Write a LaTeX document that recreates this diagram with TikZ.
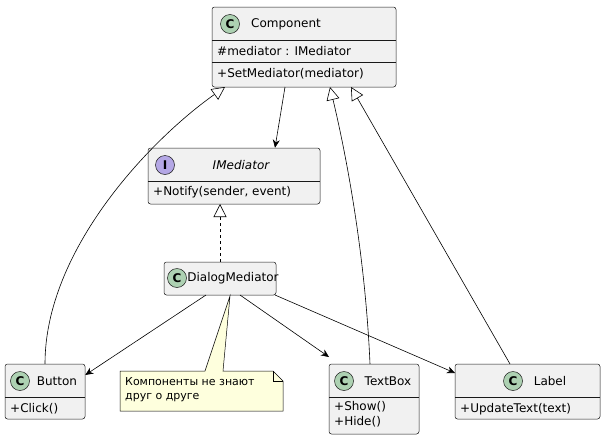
\documentclass[tikz,border=0pt]{standalone}
\usepackage{fontspec}
\setmainfont{DejaVu Sans}
\usetikzlibrary{arrows.meta}
\definecolor{boxfill}{HTML}{F1F1F1}
\definecolor{cgreen}{HTML}{ADD1B2}
\definecolor{ipurple}{HTML}{B4A7E5}
\definecolor{notefill}{HTML}{FEFFDD}
\tikzset{
  cls/.style={draw=black!90,fill=boxfill,rounded corners=2.5pt,line width=0.5pt,inner sep=0pt},
  spot/.style={circle,draw=black!90,line width=0.5pt,minimum size=19pt,inner sep=0pt,font=\fontsize{12}{12}\selectfont\bfseries},
  txt/.style={font=\fontsize{12}{15}\selectfont,inner sep=0pt},
  sep/.style={line width=0.5pt,draw=black!90},
  inherit/.style={-{Triangle[open,length=13pt,width=13pt]},line width=0.6pt},
  assoc/.style={-{Stealth[length=8pt,width=7pt]},line width=0.6pt}
}
\begin{document}
\begin{tikzpicture}[x=1pt,y=-1pt]
\useasboundingbox (0,0) rectangle (612,442);
% Component
\node[cls,minimum width=184pt,minimum height=80pt] (comp) at (304,47) {};
\draw[sep] (212,40) -- (396,40);
\draw[sep] (212,62) -- (396,62);
\node[spot,fill=cgreen] (compc) at (230,24) {C};
\node[txt] (compt) at (286,24) {Component};
\node[txt,anchor=west] (compf) at (217,51) {\#mediator : IMediator};
\node[txt,anchor=west] (compm) at (217,74) {+SetMediator(mediator)};
% IMediator
\node[cls,minimum width=172pt,minimum height=56pt] (imed) at (234,176) {};
\draw[sep] (148,181) -- (320,181);
\node[spot,fill=ipurple] (imedc) at (165,165) {I};
\node[txt] (imedt) at (241,165) {\itshape IMediator};
\node[txt,anchor=west] (imedm) at (153,192) {+Notify(sender, event)};
% DialogMediator
\node[cls,minimum width=112pt,minimum height=33pt] (dm) at (220,278.5) {};
\node[spot,fill=cgreen] (dmc) at (177,278) {C};
\node[txt] (dmt) at (233,278) {DialogMediator};
% Button
\node[cls,minimum width=80pt,minimum height=55pt] (btn) at (45,391.5) {};
\draw[sep] (5,397) -- (85,397);
\node[spot,fill=cgreen] (btnc) at (20,381) {C};
\node[txt] (btnt) at (57,381) {Button};
\node[txt,anchor=west] (btnm) at (10,409) {+Click()};
% TextBox
\node[cls,minimum width=90pt,minimum height=70pt] (tb) at (374,399) {};
\draw[sep] (329,397) -- (419,397);
\node[spot,fill=cgreen] (tbc) at (344,381) {C};
\node[txt] (tbt) at (388,381) {TextBox};
\node[txt,anchor=west] (tbm1) at (334,407) {+Show()};
\node[txt,anchor=west] (tbm2) at (334,422) {+Hide()};
% Label
\node[cls,minimum width=145pt,minimum height=55pt] (lbl) at (527.5,391.5) {};
\draw[sep] (455,397) -- (600,397);
\node[spot,fill=cgreen] (lblc) at (513,381) {C};
\node[txt] (lblt) at (550,381) {Label};
\node[txt,anchor=west] (lblm) at (460,409) {+UpdateText(text)};
% note
\coordinate (nt) at (230,296);
\draw[line width=0.5pt,fill=notefill] (120,371) -- (205,371) -- (nt) -- (223,371) -- (273,371) -- (283,381) -- (283,411) -- (120,411) -- cycle;
\draw[line width=0.5pt] (273,371) -- (273,381) -- (283,381);
\node[txt,anchor=north west,align=left,font=\fontsize{11}{14}\selectfont] (note) at (125,377) {Компоненты не знают\\друг о друге};
% connectors
\draw[inherit] (btn.north) .. controls (45,250) and (150,140) .. (225,87);
\draw[assoc] (285,87) -- (imed.north -| 275,0);
\draw[inherit] (370,364) .. controls (365,250) and (345,150) .. (330,87);
\draw[inherit] (510,364) -- (351,87);
\draw[inherit,dashed] (dm.north) -- (220,204);
\draw[assoc] (206,295) -- (btn.east |- 0,375);
\draw[assoc] (240,295) -- (329,357);
\draw[assoc] (275,295) -- (455,373);
\end{tikzpicture}
\end{document}
